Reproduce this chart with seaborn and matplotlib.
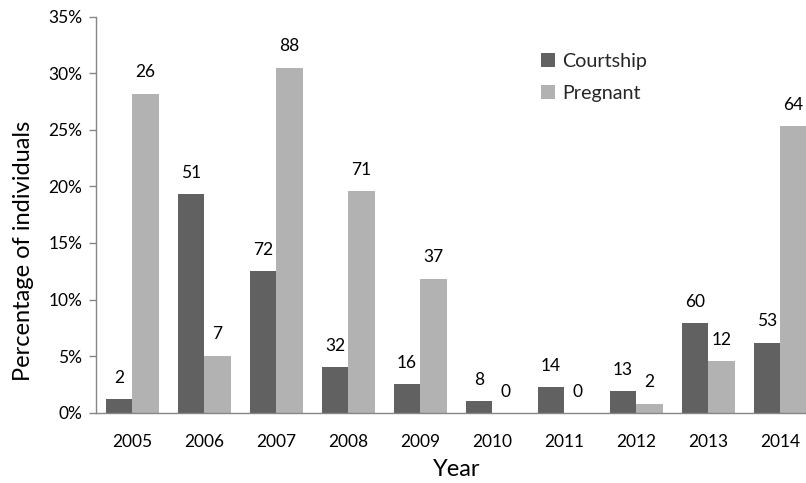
import matplotlib
matplotlib.use("Agg")
import matplotlib.pyplot as plt
import seaborn as sns
import pandas as pd

years = ["2005", "2006", "2007", "2008", "2009", "2010", "2011", "2012", "2013", "2014"]
courtship_pct = [1.2, 19.35, 12.5, 4.0, 2.55, 1.0, 2.25, 1.92, 7.9, 6.2]
pregnant_pct = [28.2, 5.05, 30.5, 19.6, 11.85, 0.0, 0.0, 0.8, 4.55, 25.3]
courtship_n = [2, 51, 72, 32, 16, 8, 14, 13, 60, 53]
pregnant_n = [26, 7, 88, 71, 37, 0, 0, 2, 12, 64]
groups = ["Courtship", "Pregnant"]
colors = {"Courtship": "#616161", "Pregnant": "#b2b2b2"}
y_ticks = [0, 5, 10, 15, 20, 25, 30, 35]

df = pd.DataFrame({
    "Year": years * 2,
    "Group": ["Courtship"] * len(years) + ["Pregnant"] * len(years),
    "Pct": courtship_pct + pregnant_pct,
})

sns.set_theme(style="white")
plt.rcParams["font.family"] = ["Lato", "DejaVu Sans"]

fig = plt.figure(figsize=(8.06, 4.83), dpi=100)
ax = fig.add_axes([96.3 / 806, 70.3 / 483, 720 / 806, 396 / 483])

sns.barplot(data=df, x="Year", y="Pct", hue="Group", hue_order=groups,
            palette=colors, width=0.736, gap=0, linewidth=0, saturation=1,
            ax=ax)

for container, counts in zip(ax.containers, [courtship_n, pregnant_n]):
    ax.bar_label(container, labels=[str(c) for c in counts], padding=9.5,
                 fontsize=12.5, color="black")

ax.set_xlim(-0.5, 9.5)
ax.set_ylim(0, 35)
ax.set_yticks(y_ticks)
ax.set_yticklabels([f"{t}%" for t in y_ticks])

for side in ("top", "right"):
    ax.spines[side].set_visible(False)
for side in ("left", "bottom"):
    ax.spines[side].set_color("#868686")
    ax.spines[side].set_linewidth(1.0)

ax.tick_params(axis="y", which="major", left=True, length=5, width=1,
               color="#868686", labelsize=12.5, labelcolor="black", pad=5)
ax.tick_params(axis="x", which="major", bottom=False, length=0,
               labelsize=12.5, labelcolor="black", pad=15)

ax.set_xlabel("Year", fontsize=17, color="black")
ax.set_ylabel("Percentage of individuals", fontsize=17, color="black")
ax.xaxis.set_label_coords(0.5, -0.118)
ax.yaxis.set_label_coords(-0.087, 0.408)

ax.legend(frameon=False, loc="upper left",
          bbox_to_anchor=(541.0 / 806, (483 - 53) / 483),
          bbox_transform=fig.transFigure, borderaxespad=0, borderpad=0,
          handlelength=0.72, handleheight=0.72, handletextpad=0.35,
          labelspacing=0.75, fontsize=14.2)

fig.savefig("out.png", dpi=100)
